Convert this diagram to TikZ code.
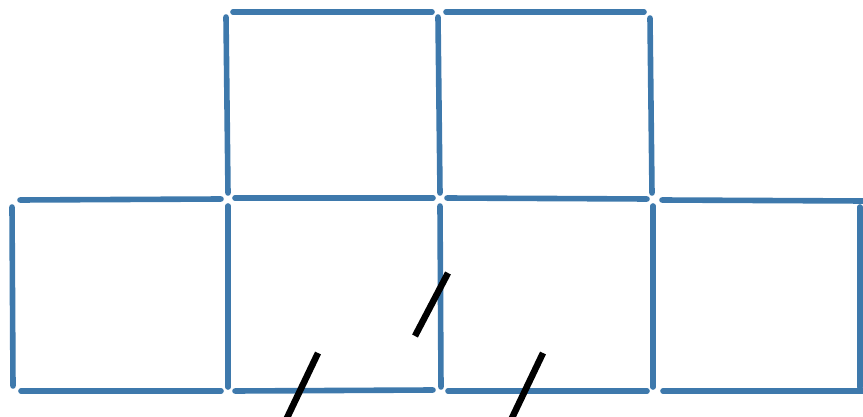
\documentclass[tikz,border=0pt]{standalone}
\begin{document}
\begin{tikzpicture}[x=1pt,y=-1pt,
  stick/.style={draw=stickblue,line width=5.6pt,line cap=round},
  blackstroke/.style={draw=black,line width=6.5pt}]
\definecolor{stickblue}{RGB}{62,121,172}
\useasboundingbox (0,0) rectangle (863,417);
% top row
\draw[stick] (233,12) -- (432,12);
\draw[stick] (446,12) -- (644,12);
\draw[stick] (226,17) -- (228,193);
\draw[stick] (438,17) -- (440,193);
\draw[stick] (650,18) -- (652,193);
% middle horizontals
\draw[stick] (20,200) -- (221,199);
\draw[stick] (235,198) -- (433,198);
\draw[stick] (447,198) -- (647,199);
\draw[stick] (662,200) -- (863,201);
% bottom verticals
\draw[stick] (12,207) -- (13,386);
\draw[stick] (228,206) -- (228,387);
\draw[stick] (440,206) -- (441,387);
\draw[stick] (653,206) -- (653,387);
\draw[stick] (860,207) -- (860,387);
% bottom
\draw[stick] (21,391) -- (221,391);
\draw[stick] (235,391) -- (433,390);
\draw[stick] (448,391) -- (647,391);
\draw[stick] (663,391) -- (863,391);
% black marks
\coordinate (a1) at (448,273); \coordinate (a2) at (415,336);
\coordinate (b1) at (318,353); \coordinate (b2) at (286,420);
\coordinate (c1) at (543,353); \coordinate (c2) at (511,420);
\draw[blackstroke] (a1) -- (a2);
\draw[blackstroke] (b1) -- (b2);
\draw[blackstroke] (c1) -- (c2);
\end{tikzpicture}
\end{document}
